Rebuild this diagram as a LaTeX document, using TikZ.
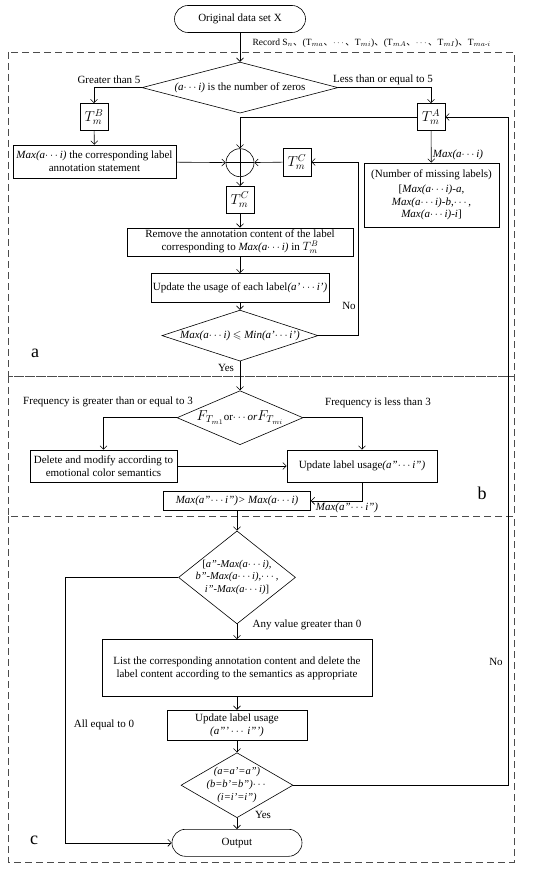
\documentclass[tikz,border=0pt]{standalone}
\usepackage{amsmath,amssymb}
\usepackage{fontspec}
\setmainfont{Liberation Serif}
\newfontfamily\cjk{Noto Sans CJK SC}
\usepackage{tikz}
\usetikzlibrary{positioning,arrows.meta,shapes.geometric}
\newcommand{\Tmx}[1]{{\Large$T^{#1}_{m}$}}
\newcommand{\dts}{$\cdots$}
\newcommand{\dun}{{\cjk 、}}

\begin{document}
\begin{tikzpicture}[x=1pt,y=-1pt,font=\fontsize{11}{13}\selectfont,>={Straight Barb[length=3.5pt,width=7pt]},
   line width=0.6pt,
   box/.style={draw,align=center,inner sep=2pt},
   tbox/.style={draw,minimum width=28pt,minimum height=27pt,inner sep=0pt},
   dia/.style={draw,diamond,align=center,inner sep=0pt},
   term/.style={draw,rounded corners=13.5pt,minimum height=27pt},
   sum/.style={draw,circle,minimum size=28pt,inner sep=0pt,
     path picture={\draw (path picture bounding box.north)--(path picture bounding box.south)
       (path picture bounding box.west)--(path picture bounding box.east);}},
   part/.style={font=\fontsize{18}{18}\selectfont},
   frame/.style={draw=black!70,line width=0.8pt,dash pattern=on 7pt off 4pt}]
  \useasboundingbox (0,0) rectangle (550,869);
  \draw[frame] (8,52) rectangle (514,376);
  \draw[frame] (8,376) rectangle (514,516);
  \draw[frame] (8,516) rectangle (514,862);
  \node[part] (pa) at (35,353) {a};
  \node[part] (pb) at (482,493) {b};
  \node[part] (pc) at (34,840) {c};
  \node[term,minimum width=131pt] (s) at (240,19) {Original data set X};
  \node[dia,aspect=3.84,minimum width=196pt,minimum height=51pt,below=29pt of s] (d1) {\textit{(a\dts i)} is the number of zeros};
  \node[tbox] (tb) at (94,117) {\Tmx{B}};
  \node[tbox] (ta) at (431,117) {\Tmx{A}};
  \node[sum,below=35pt of d1] (o) {};
  \node[box,minimum width=163pt,minimum height=33pt] (mxl) at (94.5,161.5) {\textit{Max(a\dts i)} the corresponding label\\annotation statement};
  \node[tbox,minimum height=28pt] (tcr) at (297,162) {\Tmx{C}};
  \node[box,minimum width=135pt,minimum height=64pt,inner sep=1pt,font=\fontsize{11}{12.5}\selectfont] (ml) at (431.5,195)
    {(Number of missing labels)\\[3pt][\textit{Max(a\dts i)-a},\\\textit{Max(a\dts i)-b},\dts,\\\textit{Max(a\dts i)-i}]};
  \node[tbox,below=9pt of o] (tc) {\Tmx{C}};
  \node[box,minimum width=226pt,minimum height=28pt,inner sep=1pt,below=14pt of tc] (rm)
    {Remove the annotation content of the label\\corresponding to \textit{Max(a\dts i)} in {\large$T^{B}_{m}$}};
  \node[box,minimum width=178pt,minimum height=29pt,below=17pt of rm] (u1) {Update the usage of each label\textit{(a'\,\dts i')}};
  \node[dia,aspect=3.06,minimum width=156pt,minimum height=51pt,inner sep=-3pt,below=7pt of u1] (d2)
    {\textit{Max(a\dts i)} $\leqslant$ \textit{Min(a'\dts i')}};
  \node[dia,aspect=2.33,minimum width=126pt,minimum height=54pt,inner sep=-4pt,below=29pt of d2] (d3)
    {{\Large$F_{T_{m1}}$}or\dts\textit{or}{\Large$F_{T_{mi}}$}};
  \node[box,minimum width=147pt,minimum height=32pt] (del) at (103.5,466) {Delete and modify according to\\emotional color semantics};
  \node[box,minimum width=150pt,minimum height=32pt] (u2) at (362,466) {Update label usage\textit{(a''\dts i'')}};
  \node[box,minimum width=147pt,minimum height=19pt,inner sep=1pt,below=46pt of d3,xshift=-3pt] (mx)
    {\textit{Max(a''\dts i'')> Max(a\dts i)}};
  \node[dia,aspect=1.26,minimum width=117pt,minimum height=93pt,inner sep=-6pt,below=20pt of mx,
    font=\fontsize{10.5}{12.5}\selectfont] (d4)
    {[\textit{a''-Max(a\dts i),}\\\textit{b''-Max(a\dts i),\dts,}\\\textit{i''-Max(a\dts i)}]};
  \node[box,minimum width=270pt,minimum height=57pt,below=15pt of d4] (ls)
    {List the corresponding annotation content and delete the\\label content according to the semantics as appropriate};
  \node[box,minimum width=140pt,minimum height=30pt,inner sep=0pt,below=13pt of ls,
    font=\fontsize{11}{12.5}\selectfont] (u3) {Update label usage\\\textit{(a'''\,\dts\,i''')}};
  \node[dia,aspect=1.72,minimum width=112pt,minimum height=65pt,inner sep=-6pt,below=12pt of u3,
    font=\fontsize{10.5}{13}\selectfont] (d5)
    {\textit{(a=a'=a'')}\\\textit{(b=b'=b'')}\dts\\\textit{(i=i'=i'')}};
  \node[term,minimum width=130pt,below=11pt of d5] (out) {Output};
  \node[anchor=west,font=\fontsize{9.5}{11}\selectfont] (rec) at (249,43)
    {Record S$_n$\dun(T$_{ma}$\dun\dts\dun T$_{mi}$)\dun(T$_{mA}$\dun\dts\dun T$_{mI}$)\dun T$_{ma\text{-}i}$};
  \node (gt) at (109,80) {Greater than 5};
  \node (le) at (383,80) {Less than or equal to 5};
  \node (mlab) at (458,155) {\textit{Max(a\dts i)}};
  \node (no1) at (349,306) {No};
  \node (yes1) at (226,368) {Yes};
  \node (fg) at (108,402) {Frequency is greater than or equal to 3};
  \node (fl) at (378,403) {Frequency is less than 3};
  \node (mlab2) at (347,508) {\textit{Max(a''\dts i'')}};
  \node (anyv) at (307,625) {Any value greater than 0};
  \node (no2) at (496,662) {No};
  \node (alle) at (104,725) {All equal to 0};
  \node (yes2) at (263,815) {Yes};
  \draw[->] (s) -- (d1);
  \draw[->] (d1.west) -| (tb);
  \draw[->] (d1.east) -| (ta);
  \draw[->] (ta.west) -| (o);
  \draw[->] (tb) -- (mxl);
  \draw[->] (mxl) -- (o);
  \draw[->] (tcr) -- (o);
  \draw[->] (ta) -- (ml);
  \draw[->] (o) -- (tc);
  \draw[->] (tc) -- (rm);
  \draw[->] (rm) -- (u1);
  \draw[->] (u1) -- (d2);
  \draw[->] (d2.east) -- ++(40,0) |- (tcr);
  \draw[->] (d2) -- (d3);
  \draw[->] (d3.west) -| (del);
  \draw[->] (d3.east) -| (u2);
  \draw[->] (del) -- (u2);
  \draw[->] (u2.south) |- (mx);
  \draw[->] (mx) -- (d4);
  \draw[->] (d4) -- (ls);
  \draw[->] (ls) -- (u3);
  \draw[->] (u3) -- (d5);
  \draw[->] (d5) -- (out);
  \draw[->] (d4.west) -- ++(-113,0) |- (out);
  \draw[->] (d5.east) -- ++(215,0) |- (ta);
\end{tikzpicture}
\end{document}
